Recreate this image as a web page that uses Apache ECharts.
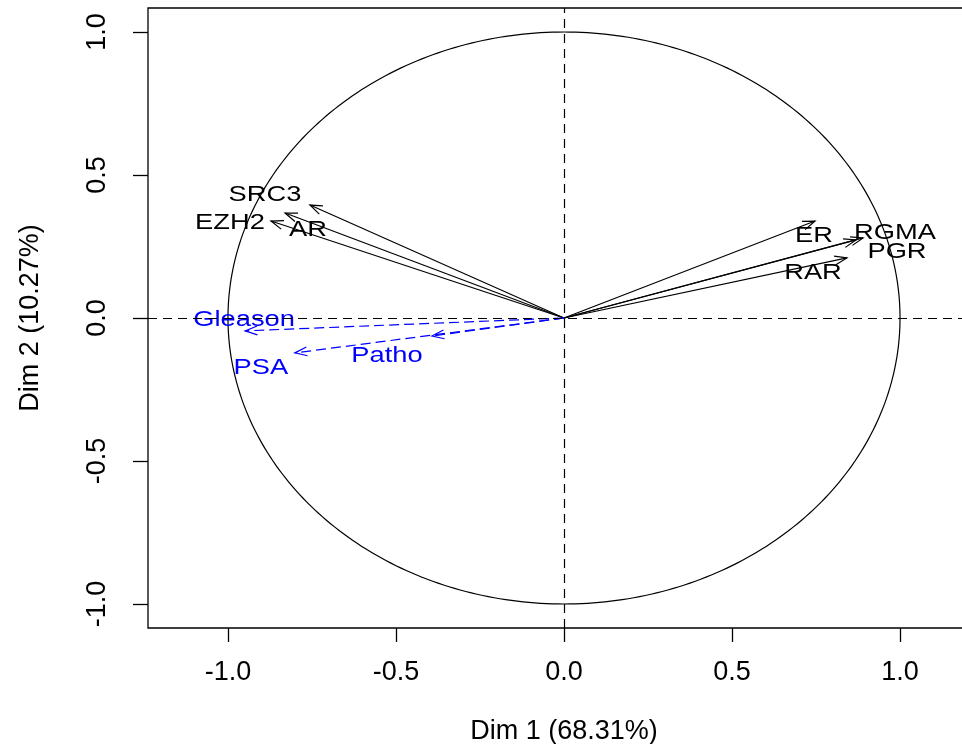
<!DOCTYPE html>
<html>
<head>
<meta charset="utf-8">
<script src="https://cdn.jsdelivr.net/npm/echarts@6/dist/echarts.min.js"></script>
<style>
html,body{margin:0;padding:0;background:#fff;}
#chart{width:962px;height:744px;}
</style>
</head>
<body>
<div id="chart"></div>
<script>
// ---- data ----
const varNames = ['SRC3', 'AR', 'EZH2', 'ER', 'RGMA', 'PGR', 'RAR', 'Gleason', 'PSA', 'Patho'];
const dim1 = [-0.756, -0.830, -0.872, 0.747, 0.890, 0.869, 0.842, -0.949, -0.801, -0.393];
const dim2 = [0.395, 0.367, 0.339, 0.339, 0.280, 0.273, 0.210, -0.045, -0.122, -0.063];
const isSupplementary = [false, false, false, false, false, false, false, true, true, true];
// label anchors (data units), as placed by the original auto-labelling
const labelDim1 = [-0.890, -0.762, -0.994, 0.744, 0.985, 0.991, 0.741, -0.952, -0.902, -0.527];
const labelDim2 = [0.430, 0.308, 0.332, 0.287, 0.297, 0.231, 0.157, -0.007, -0.175, -0.133];
const tickValues = [-1.0, -0.5, 0.0, 0.5, 1.0];
const xTitle = 'Dim 1 (68.31%)';
const yTitle = 'Dim 2 (10.27%)';

const arrowData = varNames.map((n, i) => [dim1[i], dim2[i], labelDim1[i], labelDim2[i], i]);

const chart = echarts.init(document.getElementById('chart'));
const FONT = 'Liberation Sans, Arial, sans-serif';

function renderArrow(params, api) {
  const i = api.value(4);
  const o = api.coord([0, 0]);
  const p = api.coord([api.value(0), api.value(1)]);
  const lp = api.coord([api.value(2), api.value(3)]);
  const sup = isSupplementary[i];
  const color = sup ? '#0000ff' : '#000000';
  const dash = sup ? [10, 5] : null;
  const ang = Math.atan2(p[1] - o[1], p[0] - o[0]);
  const L = 13, a = 20 * Math.PI / 180;
  const b1 = [p[0] - L * Math.cos(ang - a), p[1] - L * Math.sin(ang - a)];
  const b2 = [p[0] - L * Math.cos(ang + a), p[1] - L * Math.sin(ang + a)];
  return {
    type: 'group',
    children: [
      { type: 'line', shape: { x1: o[0], y1: o[1], x2: p[0], y2: p[1] },
        style: { stroke: color, lineWidth: 1.2, lineDash: dash } },
      { type: 'polyline', shape: { points: [b1, p, b2] },
        style: { stroke: color, lineWidth: 1.2, fill: null } },
      { type: 'text', x: lp[0], y: lp[1], scaleX: 1.24, scaleY: 1,
        style: { text: varNames[i], fill: color, font: '22px ' + FONT,
                 align: 'center', verticalAlign: 'middle' } }
    ]
  };
}

function renderCircle(params, api) {
  const pts = [];
  for (let k = 0; k <= 360; k++) {
    const t = k * Math.PI / 180;
    pts.push(api.coord([Math.cos(t), Math.sin(t)]));
  }
  return { type: 'polyline', shape: { points: pts },
           style: { stroke: '#000', lineWidth: 1.2, fill: null } };
}

const option = {
  animation: false,
  backgroundColor: '#fff',
  grid: { left: 148, top: 8, width: 832, height: 620, show: true, outerBoundsMode: 'none',
          containLabel: false,
          borderColor: '#000', borderWidth: 1.3, backgroundColor: 'transparent' },
  xAxis: {
    type: 'value', min: -1.238, max: 1.238,
    axisLine: { show: false, onZero: false },
    splitLine: { show: false },
    axisTick: { show: true, length: 14, customValues: tickValues, lineStyle: { color: '#000', width: 1.3 } },
    axisLabel: { customValues: tickValues, formatter: v => v.toFixed(1), color: '#000',
                 fontSize: 27, fontFamily: FONT, margin: 31 },
    name: xTitle, nameLocation: 'middle', nameGap: 90,
    nameTextStyle: { color: '#000', fontSize: 27, fontFamily: FONT }
  },
  yAxis: {
    type: 'value', min: -1.084, max: 1.084,
    axisLine: { show: false, onZero: false },
    splitLine: { show: false },
    axisTick: { show: true, length: 15, customValues: tickValues, lineStyle: { color: '#000', width: 1.3 } },
    axisLabel: { customValues: tickValues, formatter: v => v.toFixed(1), color: '#000',
                 fontSize: 27, fontFamily: FONT, margin: 37, rotate: 90 },
    name: yTitle, nameLocation: 'middle', nameGap: 104, nameRotate: 90,
    nameTextStyle: { color: '#000', fontSize: 27, fontFamily: FONT }
  },
  series: [
    {
      type: 'custom', renderItem: renderCircle, data: [[0, 0]], silent: true,
      markLine: {
        silent: true, symbol: 'none', label: { show: false },
        lineStyle: { color: '#000', type: [9, 6], width: 1.2 },
        data: [{ xAxis: 0 }, { yAxis: 0 }]
      }
    },
    {
      type: 'custom', renderItem: renderArrow, data: arrowData, silent: true,
      encode: { x: 0, y: 1 }
    }
  ]
};
chart.setOption(option);
</script>
</body>
</html>
